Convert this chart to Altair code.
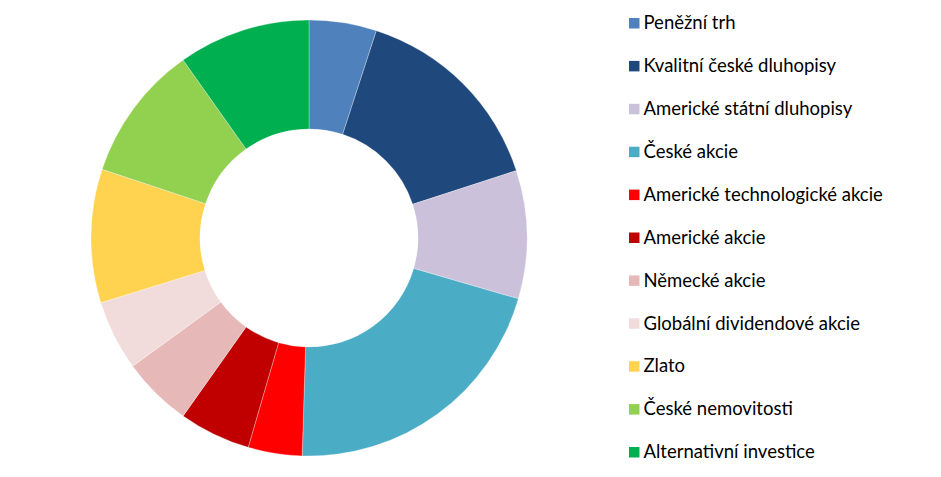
import altair as alt
import pandas as pd

categories = [
    "Peněžní trh",
    "Kvalitní české dluhopisy",
    "Americké státní dluhopisy",
    "České akcie",
    "Americké technologické akcie",
    "Americké akcie",
    "Německé akcie",
    "Globální dividendové akcie",
    "Zlato",
    "České nemovitosti",
    "Alternativní investice",
]
values = [5, 15, 9.5, 21, 4, 5.3, 5.2, 5.2, 9.9, 10.1, 9.8]
colors = [
    "#4F81BD", "#1F497D", "#CCC1DA", "#4BACC6", "#FF0000", "#C00000",
    "#E6B9B8", "#F2DCDB", "#FFD34F", "#92D050", "#00B050",
]

df = pd.DataFrame({"kategorie": categories, "hodnota": values, "poradi": list(range(len(categories)))})

chart = alt.Chart(df).mark_arc(
    outerRadius=218, innerRadius=109, stroke="white", strokeWidth=0.3
).encode(
    theta=alt.Theta("hodnota:Q", stack=True),
    order=alt.Order("poradi:Q"),
    color=alt.Color(
        "kategorie:N",
        scale=alt.Scale(domain=categories, range=colors),
        legend=alt.Legend(
            title=None,
            orient="none",
            legendX=617,
            legendY=6,
            symbolType="square",
            symbolSize=110,
            symbolStrokeWidth=0,
            labelFontSize=18.5,
            labelFont="Lato",
            labelColor="#000000",
            rowPadding=23.9,
            labelOffset=0,
            labelLimit=400,
        ),
    ),
    x=alt.value(301),
    y=alt.value(230),
).properties(
    width=925, height=461, padding=0, autosize=alt.AutoSizeParams(type="none")
).configure_view(stroke=None)

chart.save("out.html", embed_options={"renderer": "svg", "actions": False})
